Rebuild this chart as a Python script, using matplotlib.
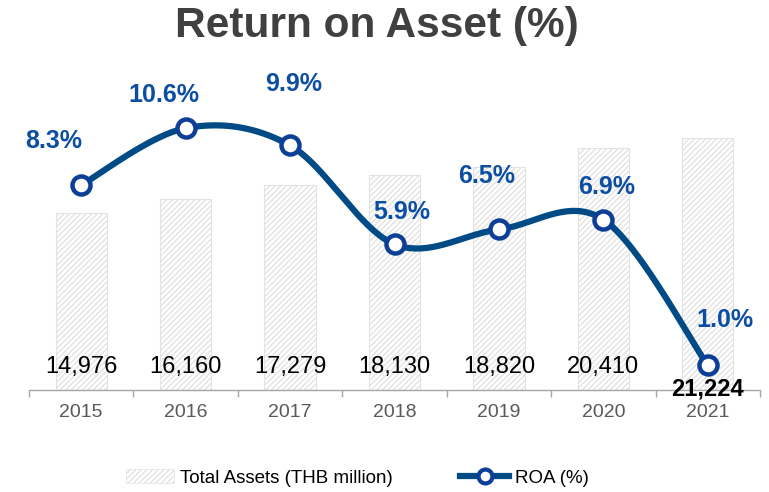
import numpy as np
import matplotlib
matplotlib.use('Agg')
import matplotlib.pyplot as plt
from matplotlib.patches import Patch
from matplotlib.lines import Line2D

plt.rcParams['font.family'] = ['Liberation Sans', 'DejaVu Sans']
plt.rcParams['hatch.color'] = '#9C9C9C'
plt.rcParams['hatch.linewidth'] = 1.0

years = ['2015', '2016', '2017', '2018', '2019', '2020', '2021']
assets = [14976, 16160, 17279, 18130, 18820, 20410, 21224]
roa = [8.3, 10.6, 9.9, 5.9, 6.5, 6.9, 1.0]


def smooth(xs, ys, n=40):
	# catmull-rom style curve through the points (like excel smoothed line)
	px = list(xs)
	py = list(ys)
	px = [px[0]] + px + [px[-1]]
	py = [py[0]] + py + [py[-1]]
	outx, outy = [], []
	for i in range(1, len(px) - 2):
		p0 = np.array([px[i - 1], py[i - 1]])
		p1 = np.array([px[i], py[i]])
		p2 = np.array([px[i + 1], py[i + 1]])
		p3 = np.array([px[i + 2], py[i + 2]])
		c1 = p1 + (p2 - p0) / 6
		c2 = p2 - (p3 - p1) / 6
		t = np.linspace(0, 1, n)[:, None]
		b = (1 - t) ** 3 * p1 + 3 * (1 - t) ** 2 * t * c1 + 3 * (1 - t) * t ** 2 * c2 + t ** 3 * p2
		outx.extend(b[:, 0])
		outy.extend(b[:, 1])
	return np.array(outx), np.array(outy)


fig = plt.figure(figsize=(7.69, 4.92), dpi=100)
ax = fig.add_axes([29 / 769, 1 - 390 / 492, 731 / 769, 290 / 492])
x = np.arange(len(years))

ax.bar(x, assets, width=0.49, color='white', edgecolor='#E3E3E3', hatch='//////', linewidth=0.8, zorder=1)
ax.set_xlim(-0.5, len(years) - 0.5)
ax.set_ylim(0, 24473)
ax.set_yticks([])
for s in ['left', 'right', 'top']:
	ax.spines[s].set_visible(False)
ax.spines['bottom'].set_color('#A6A6A6')
ax.spines['bottom'].set_linewidth(1.0)
ax.set_xticks(x)
ax.set_xticklabels(years, fontsize=14, color='#595959')
ax.tick_params(axis='x', which='major', length=0, pad=10)
ax.set_xticks(np.arange(-0.5, len(years)), minor=True)
ax.tick_params(axis='x', which='minor', length=5, color='#A6A6A6', width=1)

for i, v in enumerate(assets):
	if i == len(assets) - 1:
		ax.text(i, 0.005, f'{v:,}', ha='center', va='center', fontsize=17, fontweight='bold',
				color='black', transform=ax.get_xaxis_transform(), zorder=5)
	else:
		ax.text(i, 0.08, f'{v:,}', ha='center', va='center', fontsize=17,
				color='black', transform=ax.get_xaxis_transform(), zorder=5)

ax2 = ax.twinx()
ax2.set_ylim(0, 290 / 24.7)
ax2.set_yticks([])
for s in ['left', 'right', 'top', 'bottom']:
	ax2.spines[s].set_visible(False)

sx, sy = smooth(x, roa)
ax2.plot(sx, sy, color='#004A86', lw=4.5, solid_capstyle='round', zorder=3)
ax2.plot(x, roa, ls='none', marker='o', ms=13, mfc='white', mec='#0D3F96', mew=3.2, zorder=4)

# label offsets in pixels (dx, dy)
offs = [(-27, 44), (-22, 33), (4, 61), (7, 32), (-12, 53), (3, 33), (17, 45)]
for i, v in enumerate(roa):
	ax2.annotate(f'{v:.1f}%', (i, v), xytext=(offs[i][0] * 0.72, offs[i][1] * 0.72),
				 textcoords='offset points', ha='center', va='center', fontsize=18,
				 fontweight='bold', color='#0B4EA2', zorder=6)

fig.text(376.5 / 769, 1 - 26 / 492, 'Return on Asset (%)', ha='center', va='center', fontsize=30.5,
		 fontweight='bold', color='#404040')

h1 = Patch(facecolor='white', edgecolor='#E3E3E3', hatch='//////', linewidth=0.5)
h2 = Line2D([0], [0], color='#004A86', lw=4.5, marker='o', ms=10, mfc='white', mec='#0D3F96', mew=3)
fig.legend([h1, h2], ['Total Assets (THB million)', 'ROA (%)'], loc='center',
		   bbox_to_anchor=(357 / 769, 1 - 478 / 492), ncol=2, frameon=False, fontsize=13.5,
		   columnspacing=3.6, handlelength=2.6, handletextpad=0.3)

fig.savefig('out.png', dpi=100)
